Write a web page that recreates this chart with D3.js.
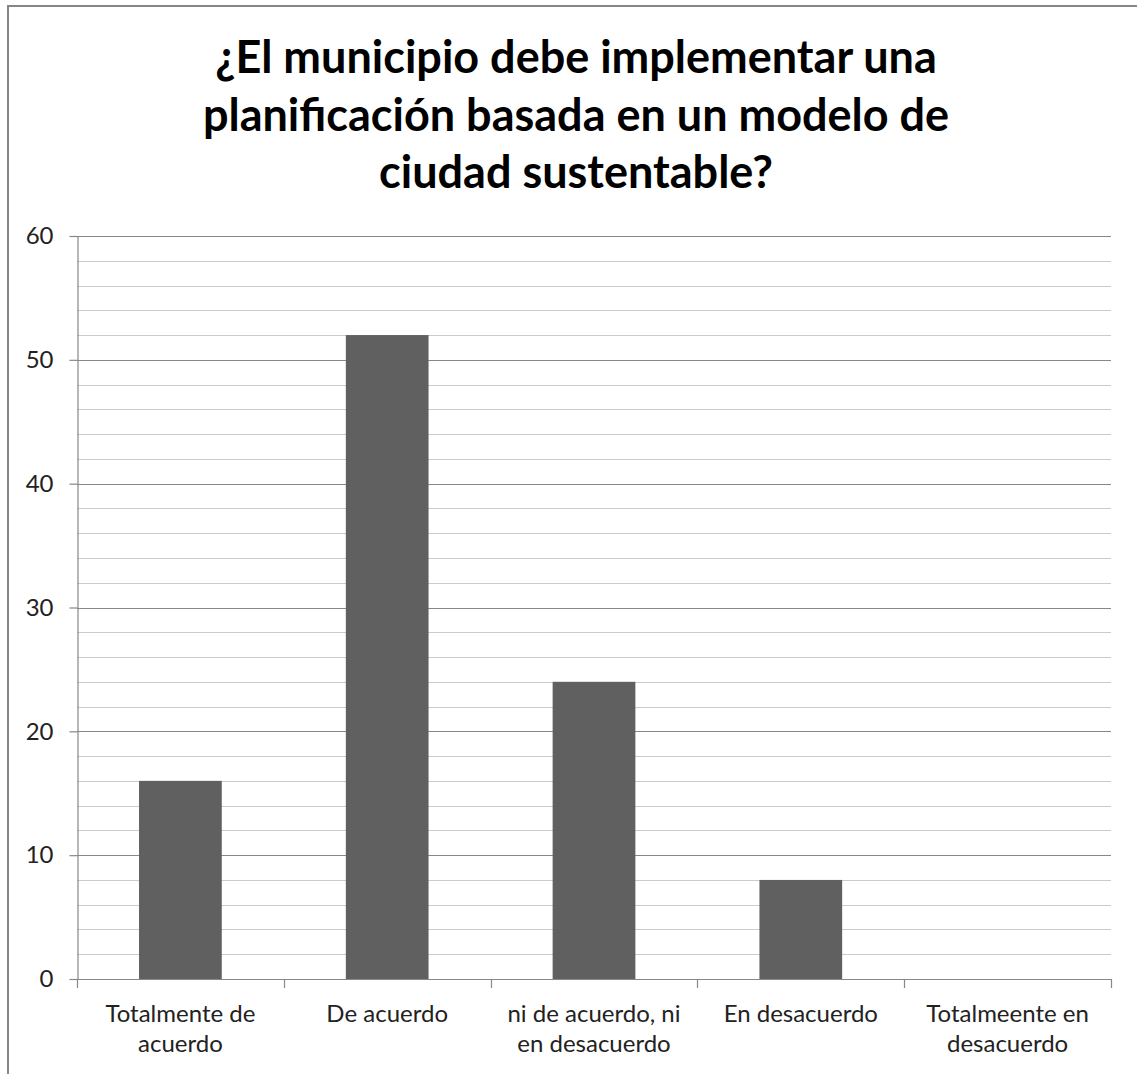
<!DOCTYPE html>
<html>
<head>
<meta charset="utf-8">
<script src="https://cdn.jsdelivr.net/npm/d3@7"></script>
<style>
  html, body { margin: 0; padding: 0; background: #ffffff; }
  svg { display: block; }
  text { font-family: Lato, "Open Sans", sans-serif; }
</style>
</head>
<body>
<svg id="chart" width="1137" height="1074"></svg>
<script>
// Survey answers and respondent counts
const categories = [
  "Totalmente de acuerdo",
  "De acuerdo",
  "ni de acuerdo, ni en desacuerdo",
  "En desacuerdo",
  "Totalmeente en desacuerdo"
];
const counts = [16, 52, 24, 8, 0];
const majorTicks = [0, 10, 20, 30, 40, 50, 60];
const minorTicks = [2, 4, 6, 8, 12, 14, 16, 18, 22, 24, 26, 28, 32, 34, 36, 38, 42, 44, 46, 48, 52, 54, 56, 58];
const titleLines = [
  "¿El municipio debe implementar una",
  "planificación basada en un modelo de",
  "ciudad sustentable?"
];

const svg = d3.select("#chart");
const W = 1137, H = 1074;
const plot = { left: 77, right: 1111, top: 236, bottom: 979 };

// Chart frame
svg.append("rect")
  .attr("x", 8).attr("y", 6)
  .attr("width", W + 20).attr("height", H + 20)
  .attr("fill", "#ffffff")
  .attr("stroke", "#868686")
  .attr("stroke-width", 2);

// Title
svg.append("g")
  .selectAll("text")
  .data(titleLines)
  .join("text")
  .attr("x", 576)
  .attr("y", (d, i) => 73 + i * 57.5)
  .attr("text-anchor", "middle")
  .attr("font-size", 45)
  .attr("font-weight", "bold")
  .attr("fill", "#000000")
  .text(d => d);

const y = d3.scaleLinear().domain([0, 60]).range([plot.bottom, plot.top]);
const x = d3.scaleBand()
  .domain(categories)
  .range([plot.left, plot.right])
  .paddingInner(0.6)
  .paddingOuter(0.3);

// Minor gridlines
svg.append("g")
  .selectAll("line")
  .data(minorTicks)
  .join("line")
  .attr("x1", plot.left).attr("x2", plot.right)
  .attr("y1", d => Math.round(y(d)) + 0.5)
  .attr("y2", d => Math.round(y(d)) + 0.5)
  .attr("stroke", "#cbcbcb")
  .attr("stroke-width", 1.2);

// Major gridlines
svg.append("g")
  .selectAll("line")
  .data(majorTicks.filter(d => d > 0))
  .join("line")
  .attr("x1", plot.left).attr("x2", plot.right)
  .attr("y1", d => Math.round(y(d)) + 0.5)
  .attr("y2", d => Math.round(y(d)) + 0.5)
  .attr("stroke", "#888888")
  .attr("stroke-width", 1.2);

// Bars
svg.append("g")
  .selectAll("rect")
  .data(counts)
  .join("rect")
  .attr("x", (d, i) => x(categories[i]))
  .attr("y", d => y(d))
  .attr("width", x.bandwidth())
  .attr("height", d => y(0) - y(d))
  .attr("fill", "#606060");

// Y axis
const yAxis = svg.append("g")
  .attr("transform", `translate(${plot.left + 0.5},0)`)
  .call(d3.axisLeft(y).tickValues(majorTicks).tickSize(8).tickSizeOuter(0).tickPadding(16));
yAxis.select(".domain").attr("stroke", "#888888").attr("stroke-width", 1.2);
yAxis.selectAll(".tick line").attr("stroke", "#888888").attr("stroke-width", 1.2);
yAxis.selectAll(".tick text")
  .attr("font-size", 24)
  .attr("font-family", "Lato, sans-serif")
  .attr("fill", "#222222");

// X axis baseline with ticks at category boundaries
const step = x.step();
const boundaries = categories.map(c => x(c) - step * x.paddingInner() / 2)
  .concat([x(categories[categories.length - 1]) + x.bandwidth() + step * x.paddingInner() / 2]);
const xAxis = svg.append("g");
xAxis.append("line")
  .attr("x1", plot.left).attr("x2", plot.right)
  .attr("y1", Math.round(y(0)) + 0.5).attr("y2", Math.round(y(0)) + 0.5)
  .attr("stroke", "#888888").attr("stroke-width", 1.2);
xAxis.selectAll("line.tick")
  .data(boundaries)
  .join("line")
  .attr("class", "tick")
  .attr("x1", d => Math.round(d) + 0.5).attr("x2", d => Math.round(d) + 0.5)
  .attr("y1", y(0)).attr("y2", y(0) + 9)
  .attr("stroke", "#888888").attr("stroke-width", 1.2);

// Category labels, wrapped to fit their slot
const labelSize = 24;
const maxWidth = step * 0.92;
const ctx = document.createElement("canvas").getContext("2d");
ctx.font = `${labelSize}px Lato`;
function wrap(str) {
  const words = str.split(" ");
  const lines = [];
  let cur = "";
  words.forEach(w => {
    const test = cur ? cur + " " + w : w;
    if (ctx.measureText(test).width > maxWidth && cur) {
      lines.push(cur);
      cur = w;
    } else {
      cur = test;
    }
  });
  if (cur) lines.push(cur);
  return lines;
}
const labels = svg.append("g")
  .selectAll("text")
  .data(categories)
  .join("text")
  .attr("x", c => x(c) + x.bandwidth() / 2)
  .attr("text-anchor", "middle")
  .attr("font-size", labelSize)
  .attr("fill", "#222222");
labels.each(function (c) {
  d3.select(this).selectAll("tspan")
    .data(wrap(c))
    .join("tspan")
    .attr("x", x(c) + x.bandwidth() / 2)
    .attr("y", (d, i) => 1022 + i * 30)
    .text(d => d);
});
</script>
</body>
</html>
